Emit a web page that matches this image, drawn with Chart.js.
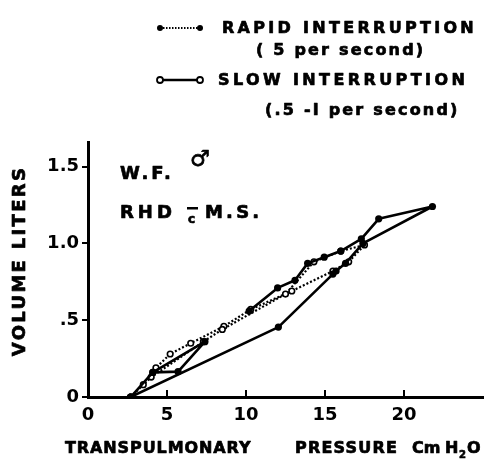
<!DOCTYPE html>
<html>
<head>
<meta charset="utf-8">
<script src="https://cdn.jsdelivr.net/npm/chart.js@4/dist/chart.umd.min.js"></script>
<style>
  html, body { margin: 0; padding: 0; background: #fff; }
  canvas { display: block; }
</style>
</head>
<body>
<canvas id="loopChart" width="499" height="462"></canvas>
<script>
// transpulmonary pressure (cm H2O) vs volume (litres)
// null splits a series into separate strokes
var slowP = [2.7, 4.1, 5.7, 7.4, 4.1, null, 10.2, 12.0, 13.1, 13.9, 14.95, 16.0, 17.3, 18.4, 21.8, 17.4, 16.3, 15.7, 15.5, 12.05, 2.7];
var slowV = [0, 0.16, 0.165, 0.36, 0.16, null, 0.56, 0.71, 0.76, 0.87, 0.91, 0.95, 1.03, 1.16, 1.24, 1.0, 0.87, 0.82, 0.80, 0.455, 0];

var rapidP = [2.7, 3.5, 4.3, 5.2, 6.5, 8.6, 10.3, 12.9, 15.5, 16.5, 17.5, 16.0, 14.3, 12.5, 8.5, 7.3, 4.0, 2.7];
var rapidV = [0, 0.08, 0.19, 0.28, 0.35, 0.46, 0.57, 0.69, 0.82, 0.88, 0.99, 0.95, 0.88, 0.67, 0.44, 0.36, 0.13, 0];

var xTicks = [0, 5, 10, 15, 20];
var xTickLabels = ['0', '5', '10', '15', '20'];
var yTicks = [0, 0.5, 1.0, 1.5];
var yTickLabels = ['0', '.5', '1.0', '1.5'];

var legendRapid = ['RAPID INTERRUPTION', '( 5 per second)'];
var legendSlow = ['SLOW INTERRUPTION', '(.5 -I per second)'];

var FONT = '"DejaVu Sans", sans-serif';

function toPoints(px, py) {
    var out = [];
    for (var i = 0; i < px.length; i++) {
        out.push({ x: px[i] === null ? NaN : px[i], y: py[i] });
    }
    return out;
}

// bold text, stroked a little to look like the heavy lettering
function txt(ctx, s, x, y, size, spacing, align) {
    ctx.save();
    ctx.font = 'bold ' + size + 'px ' + FONT;
    ctx.letterSpacing = (spacing || 0) + 'px';
    ctx.fillStyle = '#000';
    ctx.strokeStyle = '#000';
    ctx.lineWidth = 0.7;
    ctx.lineJoin = 'round';
    ctx.textBaseline = 'middle';
    ctx.textAlign = align || 'left';
    ctx.fillText(s, x, y);
    ctx.strokeText(s, x, y);
    ctx.restore();
}

function dot(ctx, x, y, r, filled) {
    ctx.beginPath();
    ctx.arc(x, y, r, 0, Math.PI * 2);
    if (filled) {
        ctx.fillStyle = '#000';
        ctx.fill();
    } else {
        ctx.fillStyle = '#fff';
        ctx.fill();
        ctx.lineWidth = 1.8;
        ctx.strokeStyle = '#000';
        ctx.stroke();
    }
}

// legend, labels and the inward x ticks
var decorPlugin = {
    id: 'decor',
    afterDraw: function (chart) {
        var ctx = chart.ctx;
        var xs = chart.scales.x;
        var area = chart.chartArea;

        ctx.save();
        ctx.strokeStyle = '#000';
        ctx.lineWidth = 2;
        xTicks.forEach(function (v) {
            if (v === 0) return;
            var px = xs.getPixelForValue(v);
            ctx.beginPath();
            ctx.moveTo(px, area.bottom);
            ctx.lineTo(px, area.bottom - 7);
            ctx.stroke();
        });

        // legend glyphs
        ctx.setLineDash([1.5, 1.5]);
        ctx.lineWidth = 2;
        ctx.beginPath();
        ctx.moveTo(160, 28);
        ctx.lineTo(200, 28);
        ctx.stroke();
        ctx.setLineDash([]);
        dot(ctx, 160, 28, 3, true);
        dot(ctx, 200, 28, 3, true);

        ctx.lineWidth = 2.4;
        ctx.beginPath();
        ctx.moveTo(160, 80);
        ctx.lineTo(200, 80);
        ctx.stroke();
        dot(ctx, 160, 80, 3, false);
        dot(ctx, 200, 80, 3, false);
        ctx.restore();

        txt(ctx, legendRapid[0], 222, 29, 16, 3.3);
        txt(ctx, legendRapid[1], 256, 51, 16, 2.2);
        txt(ctx, legendSlow[0], 218, 81, 16, 3.4);
        txt(ctx, legendSlow[1], 265, 111, 16, 2.2);

        // patient note
        txt(ctx, 'W.F.', 120, 174, 18, 3);
        txt(ctx, '♂', 190, 160, 22, 0);
        txt(ctx, 'RHD', 120, 213, 18, 4);
        ctx.save();
        ctx.fillStyle = '#000';
        ctx.fillRect(187, 207, 11, 2.5);
        ctx.restore();
        txt(ctx, 'c', 188, 220, 12, 0);
        txt(ctx, 'M.S.', 205, 213, 18, 3.2);

        // axis titles
        ctx.save();
        ctx.translate(20, 261);
        ctx.rotate(-Math.PI / 2);
        txt(ctx, 'VOLUME LITERS', 0, 0, 18, 2.3, 'center');
        ctx.restore();

        txt(ctx, 'TRANSPULMONARY', 65, 449, 16, 0.9);
        txt(ctx, 'PRESSURE', 295, 449, 16, 1.2);
        txt(ctx, 'Cm', 412, 449, 16, 0);
        txt(ctx, 'H', 445, 449, 16, 0);
        txt(ctx, '2', 459, 455, 10, 0);
        txt(ctx, 'O', 467, 449, 16, 0);
    }
};

var chart = new Chart(document.getElementById('loopChart'), {
    type: 'line',
    data: {
        datasets: [{
            label: 'Slow interruption',
            data: toPoints(slowP, slowV),
            borderColor: '#000',
            borderWidth: 2.6,
            borderJoinStyle: 'round',
            pointRadius: 3.6,
            pointBackgroundColor: '#000',
            pointBorderColor: '#000',
            pointBorderWidth: 0,
            tension: 0,
            spanGaps: false
        }, {
            label: 'Rapid interruption',
            data: toPoints(rapidP, rapidV),
            borderColor: '#000',
            borderWidth: 2.2,
            borderDash: [2, 2],
            borderJoinStyle: 'round',
            pointRadius: 2.8,
            pointBackgroundColor: '#fff',
            pointBorderColor: '#000',
            pointBorderWidth: 1.6,
            tension: 0,
            spanGaps: false
        }]
    },
    options: {
        responsive: false,
        animation: false,
        layout: { padding: { top: 142, right: 16, left: 0, bottom: 0 } },
        plugins: {
            legend: { display: false },
            tooltip: { enabled: false }
        },
        scales: {
            x: {
                type: 'linear',
                min: 0,
                max: 25,
                afterBuildTicks: function (scale) {
                    scale.ticks = xTicks.map(function (v) { return { value: v }; });
                },
                afterFit: function (scale) { scale.height = 65; },
                ticks: {
                    autoSkip: false,
                    maxRotation: 0,
                    padding: 8,
                    color: '#000',
                    font: { family: FONT, size: 18, weight: 'bold' },
                    callback: function (v) { return xTickLabels[xTicks.indexOf(v)]; }
                },
                grid: { display: true, drawOnChartArea: false, drawTicks: false },
                border: { display: true, width: 3, color: '#000' }
            },
            y: {
                min: 0,
                max: 1.66,
                afterBuildTicks: function (scale) {
                    scale.ticks = yTicks.map(function (v) { return { value: v }; });
                },
                afterFit: function (scale) { scale.width = 88; },
                ticks: {
                    padding: 3,
                    color: '#000',
                    font: { family: FONT, size: 18, weight: 'bold' },
                    callback: function (v) { return yTickLabels[yTicks.indexOf(v)]; }
                },
                grid: { drawOnChartArea: false, tickLength: 6, tickColor: '#000', tickWidth: 2, lineWidth: 2 },
                border: { display: true, width: 3, color: '#000' }
            }
        }
    },
    plugins: [decorPlugin]
});
</script>
</body>
</html>
